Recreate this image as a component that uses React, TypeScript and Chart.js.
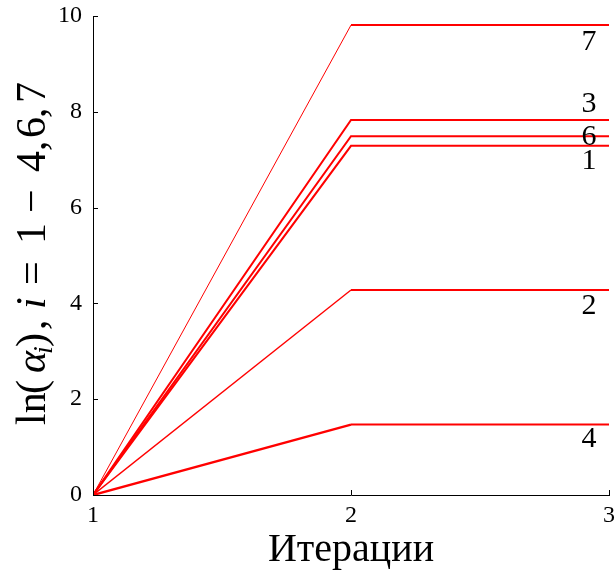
import React, { useEffect, useRef } from "react";
import { Chart, registerables } from "chart.js";

Chart.register(...registerables);

// ---- data ----
const iterations = [1, 2, 3];
const seriesNames = ["1", "2", "3", "4", "6", "7"];
const series1 = [0, 7.29, 7.29];
const series2 = [0, 4.28, 4.28];
const series3 = [0, 7.83, 7.83];
const series4 = [0, 1.47, 1.47];
const series6 = [0, 7.49, 7.49];
const series7 = [0, 9.81, 9.81];
const xTicks = [1, 2, 3];
const yTicks = [0, 2, 4, 6, 8, 10];
const xTitle = "Итерации";

// ---- style ----
const FONT = "'Liberation Serif', 'DejaVu Serif', serif";
const allSeries = [series1, series2, series3, series4, series6, series7];
const slopeWidths = [2, 1.4, 2, 2.4, 2, 1];
const labelOffsetsPx = [15, 16, -16, 15, 1, 17];

// y title pieces: [text, offset along axis (px), italic, subscript]
const yTitlePieces: [string, number, boolean, boolean][] = [
  ["ln", 0, false, false],
  ["(", 31, false, false],
  ["α", 52, true, false],
  ["i", 71, true, true],
  [")", 78, false, false],
  [",", 95, false, false],
  ["i", 116, true, false],
  ["=", 140, false, false],
  ["1", 181, false, false],
  ["−", 212, false, false],
  ["4", 253, false, false],
  [",", 274, false, false],
  ["6", 287, false, false],
  [",", 307, false, false],
  ["7", 322, false, false],
];
const Y_TITLE_LEN = 345;

const decorPlugin = {
  id: "decor",
  afterDraw(chart: any) {
    const ctx = chart.ctx;
    const xs = chart.scales.x;
    const ys = chart.scales.y;
    const area = chart.chartArea;
    ctx.save();
    // inward ticks
    ctx.strokeStyle = "#000";
    ctx.lineWidth = 1;
    ctx.beginPath();
    xTicks.forEach((v) => {
      const px = Math.round(xs.getPixelForValue(v)) + 0.5;
      ctx.moveTo(px, area.bottom);
      ctx.lineTo(px, area.bottom - 5);
    });
    yTicks.forEach((v) => {
      const py = Math.round(ys.getPixelForValue(v)) + 0.5;
      ctx.moveTo(area.left, py);
      ctx.lineTo(area.left + 5, py);
    });
    ctx.stroke();

    // series labels near right edge
    ctx.fillStyle = "#000";
    ctx.font = `30px ${FONT}`;
    ctx.textAlign = "center";
    ctx.textBaseline = "middle";
    allSeries.forEach((s, i) => {
      const v = s[s.length - 1];
      const px = xs.getPixelForValue(iterations[iterations.length - 1]) - 20;
      const py = ys.getPixelForValue(v) + labelOffsetsPx[i];
      ctx.fillText(seriesNames[i], px, py);
    });

    // rotated y title with math styling
    const centerY = (area.top + area.bottom) / 2 - 3;
    const startY = centerY + Y_TITLE_LEN / 2;
    ctx.translate(45, startY);
    ctx.rotate(-Math.PI / 2);
    ctx.textAlign = "left";
    ctx.textBaseline = "alphabetic";
    yTitlePieces.forEach(([t, off, it, sub]) => {
      const size = sub ? 28 : 42;
      ctx.font = `${it ? "italic " : ""}${size}px ${FONT}`;
      ctx.fillText(t, off, sub ? 7 : 0);
    });
    ctx.restore();
  },
};

export default function App() {
  const ref = useRef<HTMLCanvasElement | null>(null);

  useEffect(() => {
    if (!ref.current) return;
    const datasets = allSeries.map((s, i) => ({
      label: seriesNames[i],
      data: iterations.map((x, j) => ({ x, y: s[j] })),
      borderColor: "#ff0000",
      backgroundColor: "#ff0000",
      borderWidth: 2,
      pointRadius: 0,
      fill: false,
      tension: 0,
      segment: {
        borderWidth: (c: any) => (c.p0DataIndex === 0 ? slopeWidths[i] : 2),
      },
    }));

    const chart = new Chart(ref.current, {
      type: "line",
      data: { datasets },
      options: {
        responsive: false,
        animation: false,
        layout: { padding: { top: 16, right: 7, left: 0, bottom: 0 } },
        plugins: {
          legend: { display: false },
          tooltip: { enabled: false },
        },
        scales: {
          x: {
            type: "linear",
            min: 1,
            max: 3,
            afterBuildTicks: (s: any) => {
              s.ticks = xTicks.map((v) => ({ value: v }));
            },
            ticks: {
              font: { size: 24, family: FONT },
              color: "#000",
              padding: 6,
              maxRotation: 0,
              autoSkip: false,
            },
            grid: { display: true, drawOnChartArea: false, drawTicks: false },
            border: { display: true, color: "#000", width: 1 },
            title: {
              display: true,
              text: xTitle,
              font: { size: 40, family: FONT },
              color: "#000",
              padding: { top: 0, bottom: 1 },
            },
            afterFit: (s: any) => {
              s.height = 80;
              s.paddingLeft = 0;
              s.paddingRight = 0;
            },
          },
          y: {
            type: "linear",
            min: 0,
            max: 10,
            afterBuildTicks: (s: any) => {
              s.ticks = yTicks.map((v) => ({ value: v }));
            },
            ticks: {
              font: { size: 24, family: FONT },
              color: "#000",
              padding: 11,
              autoSkip: false,
            },
            grid: { display: true, drawOnChartArea: false, drawTicks: false },
            border: { display: true, color: "#000", width: 1 },
            afterFit: (s: any) => {
              s.width = 93;
              s.paddingTop = 0;
              s.paddingBottom = 0;
            },
          },
        },
      } as any,
      plugins: [decorPlugin],
    });
    return () => chart.destroy();
  }, []);

  return (
    <div style={{ position: "fixed", left: 0, top: 0, width: 616, height: 575, background: "#fff" }}>
      <canvas ref={ref} width={616} height={575} style={{ display: "block" }} />
    </div>
  );
}
